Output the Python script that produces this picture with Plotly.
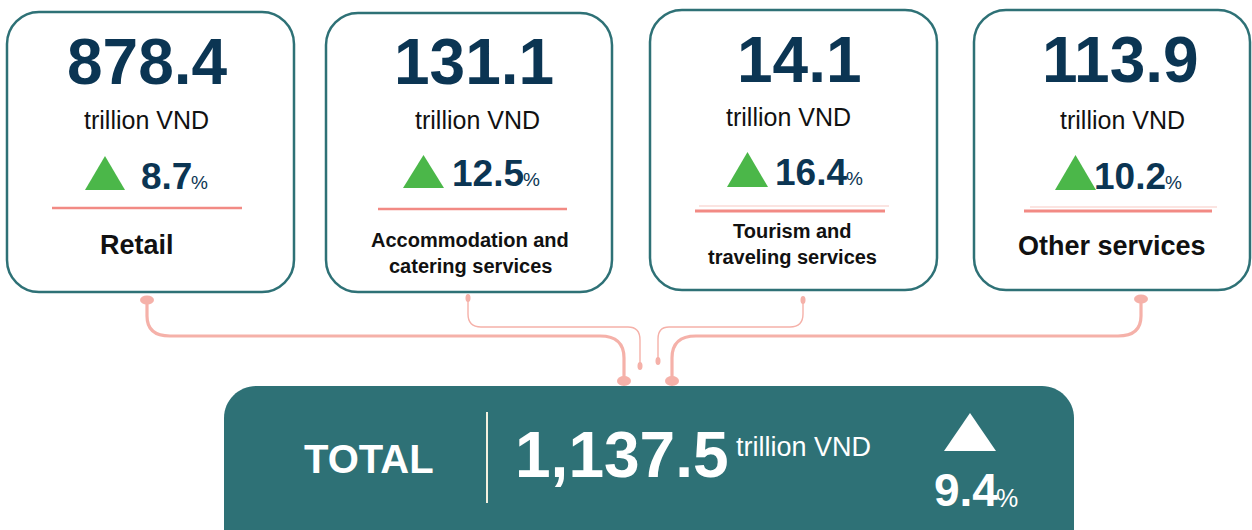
import plotly.graph_objects as go

# ---------------- data ----------------
categories = [["Retail"],
              ["Accommodation and", "catering services"],
              ["Tourism and", "traveling services"],
              ["Other services"]]
values = [878.4, 131.1, 14.1, 113.9]
growth = [8.7, 12.5, 16.4, 10.2]
unit = "trillion VND"
total_label = "TOTAL"
total_value = 1137.5
total_growth = 9.4

# ---------------- styles / layout geometry ----------------
W, H = 1252, 530
TEAL = "#2e7176"
NAVY = "#0b3553"
GREEN = "#4bb749"
PINK = "#f28a84"
PINK_LIGHT = "#f8c9c4"
CONN = "#f5b1a9"
SANS = "Liberation Sans, Arial, sans-serif"

boxes = [(7, 12, 294, 292), (326, 13, 612, 292), (650, 10, 937, 290), (974, 10, 1250, 290)]
num_pos = [(147, 62), (474, 62), (799, 60), (1120, 60)]
unit_pos = [(146, 120), (477, 120), (788, 117), (1122, 120)]
tri_pos = [(85, 125, 156, 190), (403, 444, 155, 188), (727, 768, 152, 187), (1055, 1096, 155, 190)]
pct_pos = [(191, 176), (523, 173), (846, 172), (1165, 176)]
label_pos = [[(137, 245)], [(470, 240), (470, 266)], [(792, 231), (792, 257)], [(1112, 246)]]
label_size = [27, 20, 20, 27]
sep_lines = [[(52, 242, 208, PINK, 2.5)],
             [(378, 567, 209, PINK, 2.5)],
             [(699, 889, 206, PINK_LIGHT, 1.2), (695, 885, 211, PINK, 3)],
             [(1030, 1217, 207, PINK_LIGHT, 1.2), (1024, 1212, 211, PINK, 3)]]


def rrect(x0, y0, x1, y1, r):
    k = 0.45 * r
    return (f"M{x0 + r},{y0} L{x1 - r},{y0} C{x1 - k},{y0} {x1},{y0 + k} {x1},{y0 + r} "
            f"L{x1},{y1 - r} C{x1},{y1 - k} {x1 - k},{y1} {x1 - r},{y1} "
            f"L{x0 + r},{y1} C{x0 + k},{y1} {x0},{y1 - k} {x0},{y1 - r} "
            f"L{x0},{y0 + r} C{x0},{y0 + k} {x0 + k},{y0} {x0 + r},{y0} Z")


def tri(x0, x1, yt, yb):
    return f"M{x0},{yb} L{x1},{yb} L{(x0 + x1) / 2},{yt} Z"


shapes = []
ann = []


def text(x, y, t, size, color, xanchor="center", bold=False):
    if bold:
        t = f"<b>{t}</b>"
    ann.append(dict(x=x, y=y, xref="x", yref="y", text=t, showarrow=False,
                    xanchor=xanchor, yanchor="middle", borderpad=0,
                    font=dict(size=size, color=color, family=SANS)))


# category boxes
for i in range(4):
    x0, y0, x1, y1 = boxes[i]
    shapes.append(dict(type="path", path=rrect(x0, y0, x1, y1, 32), xref="x", yref="y",
                       line=dict(color=TEAL, width=2.5), fillcolor="white", layer="below"))
    text(num_pos[i][0], num_pos[i][1], f"{values[i]:.1f}", 64, NAVY, bold=True)
    text(unit_pos[i][0], unit_pos[i][1], unit, 25, "#111111")
    tx0, tx1, tyt, tyb = tri_pos[i]
    shapes.append(dict(type="path", path=tri(tx0, tx1, tyt, tyb), xref="x", yref="y",
                       line=dict(width=0), fillcolor=GREEN))
    px, py = pct_pos[i]
    text(px + 2, py, f"{growth[i]:.1f}", 37, NAVY, xanchor="right", bold=True)
    text(px - 1, py + 6, "%", 19, NAVY, xanchor="left")
    for (lx0, lx1, ly, lc, lw) in sep_lines[i]:
        shapes.append(dict(type="line", x0=lx0, x1=lx1, y0=ly, y1=ly, xref="x", yref="y",
                           line=dict(color=lc, width=lw)))
    for line_txt, (lx, ly) in zip(categories[i], label_pos[i]):
        text(lx, ly, line_txt, label_size[i], "#111111", bold=True)

# connectors
connectors = [
    ("M147,300 L147,316 Q147,336 170,336 L600,336 Q624,336 624,358 L624,381", 3.2),
    ("M468,298 L468,314 Q468,327 481,327 L628,327 Q640,327 640,340 L640,366", 1.4),
    ("M803,300 L803,314 Q803,327 790,327 L669,327 Q658,327 658,339 L658,361", 1.4),
    ("M1141,299 L1141,316 Q1141,336 1118,336 L696,336 Q672,336 672,358 L672,381", 3.2),
]
for p, w in connectors:
    shapes.append(dict(type="path", path=p, xref="x", yref="y",
                       line=dict(color=CONN, width=w), layer="below"))
dots = [(147, 300, 7, 4.5), (624, 381, 7, 5), (672, 381, 7, 5), (1141, 299, 7, 4.5),
        (468, 298, 2.5, 4), (640, 366, 2.5, 4), (803, 300, 2.5, 4), (658, 361, 2.5, 4)]
for cx, cy, rx, ry in dots:
    shapes.append(dict(type="circle", x0=cx - rx, x1=cx + rx, y0=cy - ry, y1=cy + ry,
                       xref="x", yref="y", line=dict(width=0), fillcolor=CONN))

# total box
shapes.append(dict(type="path", path=rrect(224, 386, 1074, 570, 32), xref="x", yref="y",
                   line=dict(width=0), fillcolor=TEAL))
shapes.append(dict(type="line", x0=487, x1=487, y0=412, y1=503, xref="x", yref="y",
                   line=dict(color="#f4f1df", width=2)))
text(369, 459, total_label, 40, "white", bold=True)
text(622, 455, f"{total_value:,.1f}", 64, "white", bold=True)
text(735, 447, unit, 27, "white", xanchor="left")
shapes.append(dict(type="path", path=tri(944, 996, 413, 451), xref="x", yref="y",
                   line=dict(width=0), fillcolor="white"))
text(999, 490, f"{total_growth:.1f}", 46, "white", xanchor="right", bold=True)
text(995, 498, "%", 25, "white", xanchor="left")

fig = go.Figure()
fig.update_layout(
    width=W, height=H, margin=dict(l=0, r=0, t=0, b=0),
    paper_bgcolor="white", plot_bgcolor="white",
    xaxis=dict(range=[0, W], visible=False, fixedrange=True),
    yaxis=dict(range=[H, 0], visible=False, fixedrange=True),
    shapes=shapes, annotations=ann, showlegend=False,
)
fig.write_html("out.html", config={"displayModeBar": False},
               post_script="document.body.style.margin='0';document.body.style.overflow='hidden';")
